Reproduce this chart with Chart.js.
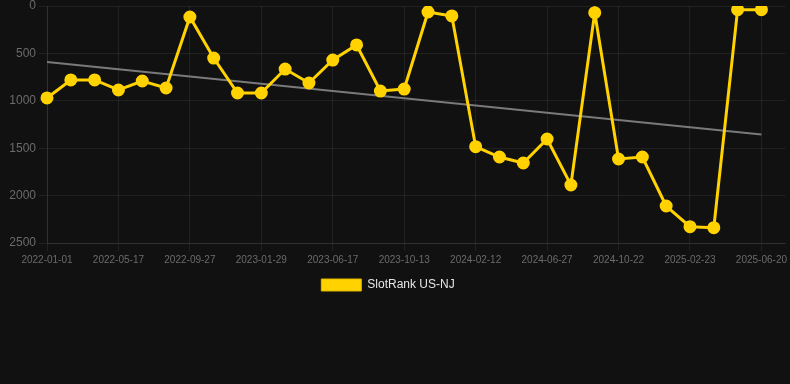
<!DOCTYPE html>
<html>
<head>
<meta charset="utf-8">
<script src="https://cdn.jsdelivr.net/npm/chart.js@4/dist/chart.umd.min.js"></script>
<style>
  html, body { margin: 0; padding: 0; background: #111111; }
  #wrap { position: relative; width: 790px; height: 301px; }
</style>
</head>
<body>
<div id="wrap"><canvas id="rankChart"></canvas></div>
<script>
  // dates on the x axis (every 3rd one is shown), last slot left empty
  const dates = [
    '2022-01-01', '2022-02-15', '2022-03-31', '2022-05-17', '2022-06-30', '2022-08-13',
    '2022-09-27', '2022-11-07', '2022-12-18', '2023-01-29', '2023-03-17', '2023-05-02',
    '2023-06-17', '2023-07-26', '2023-09-03', '2023-10-13', '2023-11-23', '2024-01-03',
    '2024-02-12', '2024-03-28', '2024-05-12', '2024-06-27', '2024-08-05', '2024-09-13',
    '2024-10-22', '2024-12-04', '2025-01-13', '2025-02-23', '2025-04-03', '2025-05-12',
    '2025-06-20', ''
  ];

  const rankNJ = [
    970, 780, 780, 886, 791, 865, 116, 549, 918, 918, 665, 812,
    570, 411, 897, 876, 63, 105, 1484, 1593, 1656, 1403, 1888, 70,
    1614, 1593, 2110, 2328, 2338, 39, 39
  ];

  // trend line: start and end values only
  const trendStart = 590;
  const trendEnd = 1355;
  const trend = rankNJ.map((v, i) => i === 0 ? trendStart : (i === rankNJ.length - 1 ? trendEnd : null));

  const yTicks = [0, 500, 1000, 1500, 2000, 2500];

  const gridColor = 'rgba(255,255,255,0.07)';
  const tickColor = '#6b6b6b';
  const fontFamily = 'Liberation Sans, Arial, sans-serif';

  // nudge the legend a bit left of centre, like the original
  const legendShift = {
    id: 'legendShift',
    afterLayout(chart) {
      if (!chart.legend) return;
      chart.legend.left -= 7;
      chart.legend.right -= 7;
    }
  };

  const ctx = document.getElementById('rankChart').getContext('2d');
  new Chart(ctx, {
    type: 'line',
    data: {
      labels: dates,
      datasets: [
        {
          label: 'SlotRank US-NJ',
          data: rankNJ,
          borderColor: '#ffd200',
          backgroundColor: '#ffd200',
          borderWidth: 3,
          pointRadius: 5,
          pointHoverRadius: 6,
          tension: 0
        },
        {
          label: 'trend',
          data: trend,
          borderColor: '#7a7a7a',
          backgroundColor: '#7a7a7a',
          borderWidth: 2,
          pointRadius: 0,
          spanGaps: true,
          tension: 0
        }
      ]
    },
    plugins: [legendShift],
    options: {
      responsive: true,
      maintainAspectRatio: false,
      animation: false,
      layout: { padding: 0, autoPadding: false },
      scales: {
        x: {
          grid: { color: gridColor },
          border: { color: gridColor },
          ticks: {
            color: tickColor,
            font: { family: fontFamily, size: 10 },
            maxRotation: 0,
            autoSkip: true,
            maxTicksLimit: 11
          }
        },
        y: {
          reverse: true,
          min: yTicks[0],
          max: yTicks[yTicks.length - 1],
          grid: { color: gridColor },
          border: { color: gridColor },
          afterBuildTicks: (axis) => { axis.ticks = yTicks.map(v => ({ value: v })); },
          afterFit: (axis) => { axis.width = 47; axis.paddingTop = 6; },
          ticks: {
            color: tickColor,
            font: { family: fontFamily, size: 12, lineHeight: 1 },
            callback: (v) => String(v)
          }
        }
      },
      plugins: {
        legend: {
          position: 'bottom',
          labels: {
            color: '#e6e6e6',
            font: { family: fontFamily, size: 12 },
            boxWidth: 40,
            boxHeight: 12,
            generateLabels: (chart) => {
              const items = Chart.defaults.plugins.legend.labels.generateLabels(chart);
              return items
                .filter(item => item.text !== 'trend')
                .map(item => Object.assign(item, { lineWidth: 1, strokeStyle: '#e0b800' }));
            }
          }
        },
        tooltip: { enabled: false }
      }
    }
  });
</script>
</body>
</html>
